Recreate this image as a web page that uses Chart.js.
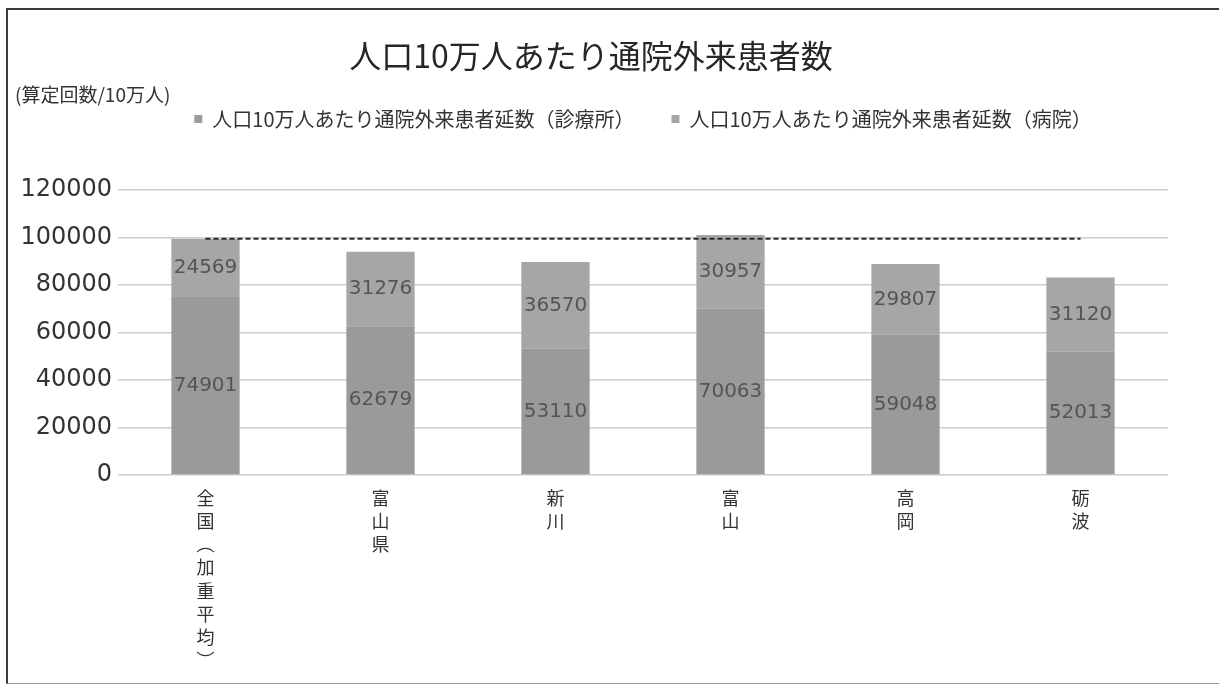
<!DOCTYPE html>
<html lang="ja">
<head>
<meta charset="utf-8">
<title>人口10万人あたり通院外来患者数</title>
<script src="https://cdn.jsdelivr.net/npm/chart.js@4.4.1/dist/chart.umd.min.js"></script>
<style>
  html, body { margin: 0; padding: 0; background: #fff; }
  #wrap { position: relative; width: 1219px; height: 686px; overflow: hidden; }
  #frame {
    position: absolute; left: 6px; top: 8px; right: -4px; bottom: 2px;
    border-left: 2px solid #3a3a3a; border-top: 2px solid #3a3a3a; border-bottom: 1px solid #9a9a9a;
  }
  #chart { position: absolute; left: 0; top: 0; }
</style>
</head>
<body>
<div id="wrap">
  <div id="frame"></div>
  <canvas id="chart" width="1219" height="686"></canvas>
</div>
<script>
// values (算定回数/10万人)
const regions = ['全国（加重平均）', '富山県', '新川', '富山', '高岡', '砺波'];
const clinicVisits = [74901, 62679, 53110, 70063, 59048, 52013];
const hospitalVisits = [24569, 31276, 36570, 30957, 29807, 31120];
// 全国 total (clinic + hospital), drawn as the dashed reference line
const nationalLevel = [99470, 99470, 99470, 99470, 99470, 99470];
const yTicks = [0, 20000, 40000, 60000, 80000, 100000, 120000];

const JP = '"Noto Sans CJK JP", "Noto Sans", sans-serif';

// Excel stacks the category names one character per line; brackets become vertical forms
function verticalLabel(s) {
  return Array.from(s).map((c) => (c === '（' ? '︵' : c === '）' ? '︶' : c));
}

// the unit note at the top left
const unitNote = {
  id: 'unitNote',
  afterDraw(chart) {
    const ctx = chart.ctx;
    ctx.save();
    ctx.font = '19px ' + JP;
    ctx.fillStyle = '#333';
    ctx.textBaseline = 'middle';
    ctx.fillText('(算定回数/10万人)', 15, 95);
    ctx.restore();
  }
};

// value labels in the middle of every bar segment
const segmentLabels = {
  id: 'segmentLabels',
  afterDatasetsDraw(chart) {
    const ctx = chart.ctx;
    ctx.save();
    ctx.font = '20px "DejaVu Sans", sans-serif';
    ctx.fillStyle = '#555';
    ctx.textAlign = 'center';
    ctx.textBaseline = 'middle';
    chart.data.datasets.forEach((ds, i) => {
      if (ds.type !== 'bar') return;
      const meta = chart.getDatasetMeta(i);
      meta.data.forEach((el, j) => {
        ctx.fillText(String(ds.data[j]), el.x, (el.y + el.base) / 2);
      });
    });
    ctx.restore();
  }
};

new Chart(document.getElementById('chart'), {
  data: {
    labels: regions.map(verticalLabel),
    datasets: [
      {
        type: 'line',
        label: '全国',
        data: nationalLevel,
        xAxisID: 'x',
        yAxisID: 'y',
        borderColor: '#2b2b2b',
        borderWidth: 2,
        borderDash: [5, 3],
        pointRadius: 0,
        fill: false,
        stack: 'avg',
        order: 0
      },
      {
        type: 'bar',
        label: '人口10万人あたり通院外来患者延数（診療所）',
        data: clinicVisits,
        xAxisID: 'x',
        yAxisID: 'y',
        backgroundColor: '#9a9a9a',
        stack: 'visits',
        barPercentage: 0.39,
        categoryPercentage: 1,
        order: 1
      },
      {
        type: 'bar',
        label: '人口10万人あたり通院外来患者延数（病院）',
        data: hospitalVisits,
        xAxisID: 'x',
        yAxisID: 'y',
        backgroundColor: '#a6a6a6',
        stack: 'visits',
        barPercentage: 0.39,
        categoryPercentage: 1,
        order: 1
      }
    ]
  },
  options: {
    responsive: false,
    animation: false,
    layout: { padding: { left: 14, right: 51, top: 0, bottom: 0 } },
    plugins: {
      title: {
        display: true,
        text: '人口10万人あたり通院外来患者数',
        color: '#262626',
        font: { family: JP, size: 32, weight: 'normal', lineHeight: 1 },
        padding: { top: 40, bottom: 0 }
      },
      legend: {
        fullSize: false,
        labels: {
          filter: (item) => item.datasetIndex !== 0,
          boxWidth: 8,
          boxHeight: 8,
          padding: 37,
          color: '#333',
          font: { family: JP, size: 20 }
        }
      },
      tooltip: { enabled: false }
    },
    scales: {
      x: {
        stacked: true,
        offset: true,
        grid: { display: false, offset: true },
        border: { display: false },
        ticks: {
          color: '#333',
          font: { family: JP, size: 18, lineHeight: 1.28 },
          padding: 4,
          maxRotation: 0,
          minRotation: 0,
          autoSkip: false
        },
        afterFit: (s) => { s.height = 211; }
      },
      // empty top axis: only keeps the gap between legend and plot
      gap: {
        type: 'category',
        position: 'top',
        grid: { display: false },
        border: { display: false },
        ticks: { display: false },
        afterFit: (s) => { s.height = 51; }
      },
      y: {
        stacked: true,
        min: 0,
        max: 120000,
        border: { display: false },
        grid: { color: '#cdcdcd', lineWidth: 1.5, drawTicks: false },
        afterBuildTicks: (s) => { s.ticks = yTicks.map((v) => ({ value: v })); },
        ticks: {
          color: '#333',
          padding: 6,
          font: { family: '"DejaVu Sans", sans-serif', size: 24 },
          callback: (v) => String(v)
        },
        afterFit: (s) => { s.width = 104; }
      }
    }
  },
  plugins: [unitNote, segmentLabels]
});
</script>
</body>
</html>
